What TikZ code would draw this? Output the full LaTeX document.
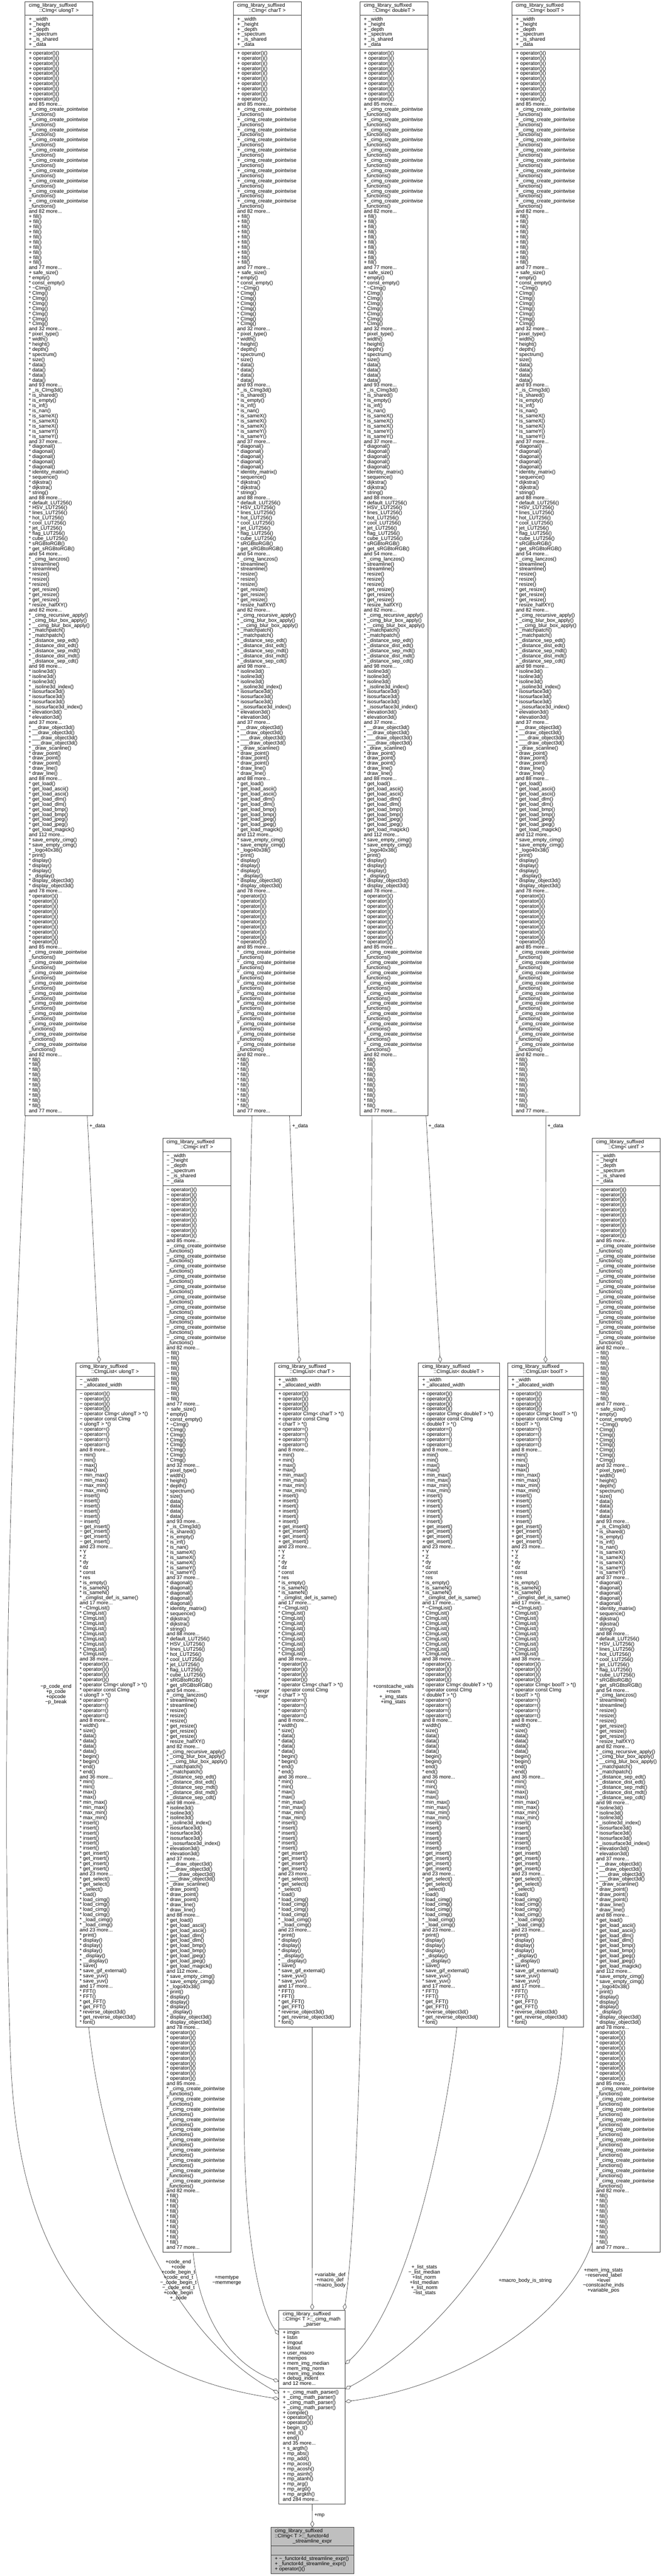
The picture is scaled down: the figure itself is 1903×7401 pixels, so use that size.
\documentclass[tikz,border=0pt]{standalone}
\usepackage{fontspec}
\setmainfont{Liberation Sans}
\usetikzlibrary{arrows.meta}
\definecolor{bcol}{HTML}{404040}
\definecolor{gfill}{HTML}{BFBFBF}
\newcommand\bfnt{\fontsize{14.68pt}{14.68pt}\selectfont}
\newcommand\Li[1]{\hbox{#1}}
\newcommand\Lines[1]{\vtop{\lineskiplimit=-100pt\lineskip=0pt #1}}
\newcommand\Two[1]{\Li{#1}\Li{#1}}
\newcommand\Three[1]{\Two{#1}\Li{#1}}
\newcommand\Four[1]{\Two{#1}\Two{#1}}
\newcommand\Five[1]{\Four{#1}\Li{#1}}
\newcommand\Six[1]{\Four{#1}\Two{#1}}
\newcommand\Seven[1]{\Six{#1}\Li{#1}}
\newcommand\Nine[1]{\Five{#1}\Four{#1}}
\newcommand\Ten[1]{\Five{#1}\Five{#1}}
\newcommand\PW[1]{\Li{#1 \_cimg\_create\_pointwise}\Li{\_functions()}}
\newcommand\PWTen[1]{\PW{#1}\PW{#1}\PW{#1}\PW{#1}\PW{#1}\PW{#1}\PW{#1}\PW{#1}\PW{#1}\PW{#1}}
\newcommand\CImgHead[1]{\Ten{#1 operator()()}\Li{and 85 more...}\PWTen{#1}\Li{and 82 more...}\Ten{#1 fill()}\Li{and 77 more...}}
\newcommand\CImgAttr[1]{\Li{#1 \_width}\Li{#1 \_height}\Li{#1 \_depth}\Li{#1 \_spectrum}\Li{#1 \_is\_shared}\Li{#1 \_data}}
\newcommand\CImgMeth[1]{%
\CImgHead{#1}\Li{#1 safe\_size()}%
\Li{* empty()}\Li{* const\_empty()}\Li{* \textasciitilde CImg()}\Seven{* CImg()}\Li{and 32 more...}%
\Li{* pixel\_type()}\Li{* width()}\Li{* height()}\Li{* depth()}\Li{* spectrum()}\Li{* size()}\Four{* data()}\Li{and 93 more...}%
\Li{* \_is\_CImg3d()}\Li{* is\_shared()}\Li{* is\_empty()}\Li{* is\_inf()}\Li{* is\_nan()}\Three{* is\_sameX()}\Two{* is\_sameY()}\Li{and 37 more...}%
\Five{* diagonal()}\Li{* identity\_matrix()}\Li{* sequence()}\Two{* dijkstra()}\Li{* string()}\Li{and 88 more...}%
\Li{* default\_LUT256()}\Li{* HSV\_LUT256()}\Li{* lines\_LUT256()}\Li{* hot\_LUT256()}\Li{* cool\_LUT256()}\Li{* jet\_LUT256()}\Li{* flag\_LUT256()}\Li{* cube\_LUT256()}\Li{* sRGBtoRGB()}\Li{* get\_sRGBtoRGB()}\Li{and 54 more...}%
\Li{* \_cimg\_lanczos()}\Two{* streamline()}\Three{* resize()}\Three{* get\_resize()}\Li{* resize\_halfXY()}\Li{and 82 more...}%
\Li{* \_cimg\_recursive\_apply()}\Li{* \_cimg\_blur\_box\_apply()}\Li{* \_\_cimg\_blur\_box\_apply()}\Two{* \_matchpatch()}\Li{* \_distance\_sep\_edt()}\Li{* \_distance\_dist\_edt()}\Li{* \_distance\_sep\_mdt()}\Li{* \_distance\_dist\_mdt()}\Li{* \_distance\_sep\_cdt()}\Li{and 98 more...}%
\Three{* isoline3d()}\Li{* \_isoline3d\_index()}\Three{* isosurface3d()}\Li{* \_isosurface3d\_index()}\Two{* elevation3d()}\Li{and 37 more...}%
\Two{* \_\_draw\_object3d()}\Two{* \_\_\_draw\_object3d()}\Li{* \_draw\_scanline()}\Three{* draw\_point()}\Two{* draw\_line()}\Li{and 88 more...}%
\Li{* get\_load()}\Two{* get\_load\_ascii()}\Two{* get\_load\_dlm()}\Two{* get\_load\_bmp()}\Two{* get\_load\_jpeg()}\Li{* get\_load\_magick()}\Li{and 112 more...}%
\Two{* save\_empty\_cimg()}\Li{* \_logo40x38()}\Li{* print()}\Three{* display()}\Li{* \_display()}\Two{* display\_object3d()}\Li{and 78 more...}%
\CImgHead{*}}
\newcommand\LOp[2]{\Four{#1 operator()()}\Li{#1 operator CImg< #2 > *()}\Li{#1 operator const CImg}\Li{< #2 > *()}\Four{#1 operator=()}\Li{and 8 more...}}
\newcommand\LMin[1]{\Two{#1 min()}\Two{#1 max()}\Two{#1 min\_max()}\Two{#1 max\_min()}\Six{#1 insert()}\Four{#1 get\_insert()}\Li{and 23 more...}}
\newcommand\ListMeth[2]{\LOp{#1}{#2}\LMin{#1}%
\Li{* Y}\Li{* Z}\Li{* dy}\Li{* dz}\Li{* const}\Li{* res}%
\Li{* is\_empty()}\Two{* is\_sameN()}\Li{* \_cimglist\_def\_is\_same()}\Li{and 17 more...}%
\Li{* \textasciitilde CImgList()}\Nine{* CImgList()}\Li{and 38 more...}%
\LOp{*}{#2}%
\Li{* width()}\Li{* size()}\Four{* data()}\Two{* begin()}\Two{* end()}\Li{and 36 more...}%
\LMin{*}%
\Two{* get\_select()}\Li{* \_select()}\Li{* load()}\Four{* load\_cimg()}\Two{* \_load\_cimg()}\Li{and 23 more...}%
\Li{* print()}\Three{* display()}\Li{* \_display()}\Li{* \_\_display()}\Li{* save()}\Li{* save\_gif\_external()}\Two{* save\_yuv()}\Li{and 17 more...}%
\Two{* FFT()}\Two{* get\_FFT()}\Li{* reverse\_object3d()}\Li{* get\_reverse\_object3d()}\Li{* font()}}
\tikzset{
  umlbox/.style={draw=bcol, line width=1.2pt, fill=white, anchor=north west, inner sep=0pt, outer sep=0pt},
  sepline/.style={draw=bcol, line width=1.2pt},
  tx/.style={anchor=base west, inner sep=0pt, font=\bfnt},
  hc/.style={anchor=base, inner sep=0pt, font=\bfnt},
  lab/.style={inner sep=0pt, font=\bfnt, align=center},
  conn/.style={draw=bcol, line width=1pt, -{Diamond[fill=white, length=19pt, width=11pt, line width=1pt]}}
}
\newcommand\Cls[7]{%
  \node[umlbox, minimum width=#4pt, minimum height=#5pt] (#1) at (#2,#3) {};
  \draw[sepline] ([yshift=-#6pt]#1.north west) -- ([yshift=-#6pt]#1.north east);
  \draw[sepline] ([yshift=-#7pt]#1.north west) -- ([yshift=-#7pt]#1.north east);}
\newcommand\HdrTwo[5]{%
  \node[tx] (#1-h1) at (#2+11,#3+15.5) {cimg\_library\_suffixed};
  \node[hc] (#1-h2) at (#2+#4/2,#3+30.18) {#5};}
\newcommand\Sec[4]{\node[tx] (#1) at (#2+11,#3+15.5) {\Lines{#4}};}
\newcommand\CImgBox[6]{% name x y w header prefix
  \Cls{#1}{#2}{#3}{#4}{3199.98}{39.06}{136.84}
  \HdrTwo{#1}{#2}{#3}{#4}{#5}
  \Sec{#1-at}{#2}{#3+39.06}{\CImgAttr{#6}}
  \Sec{#1-me}{#2}{#3+136.84}{\CImgMeth{#6}}}
\newcommand\ListBox[6]{% name x w header prefix type
  \Cls{#1}{#2}{3915}{#3}{1908.14}{39.06}{78.12}
  \HdrTwo{#1}{#2}{3915}{#3}{#4}
  \Sec{#1-at}{#2}{3915+39.06}{\Li{#5 \_width}\Li{#5 \_allocated\_width}}
  \Sec{#1-me}{#2}{3915+78.12}{\ListMeth{#5}{#6}}}
\begin{document}
\begin{tikzpicture}[x=1pt,y=-1pt]
\useasboundingbox (0,0) rectangle (1903,7401);
\fill[white] (0,0) rectangle (1903,7401);
% top row
\CImgBox{A}{72}{5}{195}{::CImg< ulongT >}{+}
\CImgBox{C}{671}{5}{195}{::CImg< charT >}{+}
\CImgBox{D}{1035}{5}{195}{::CImg< doubleT >}{+}
\CImgBox{E}{1472}{5}{195}{::CImg< boolT >}{+}
% second level
\CImgBox{B}{468}{3270}{196}{::CImg< intT >}{−}
\CImgBox{F}{1703}{3270}{195}{::CImg< uintT >}{−}
% lists
\ListBox{L1}{218}{226}{::CImgList< ulongT >}{−}{ulongT}
\ListBox{L2}{789}{218}{::CImgList< charT >}{+}{charT}
\ListBox{L3}{1203}{233}{::CImgList< doubleT >}{+}{doubleT}
\ListBox{L4}{1460}{217}{::CImgList< boolT >}{+}{boolT}
% math parser
\Cls{M}{802}{6637}{191}{557.58}{53.74}{224.92}
\node[tx] (M-h1) at (813,6652.5) {cimg\_library\_suffixed};
\node[tx] (M-h2) at (813,6667.18) {::CImg< T >::\_cimg\_math};
\node[hc] (M-h3) at (897.5,6681.86) {\_parser};
\Sec{M-at}{802}{6637+53.74}{\Li{+ imgin}\Li{+ listin}\Li{+ imgout}\Li{+ listout}\Li{+ user\_macro}\Li{+ mempos}\Li{+ mem\_img\_median}\Li{+ mem\_img\_norm}\Li{+ mem\_img\_index}\Li{+ debug\_indent}\Li{and 12 more...}}
\Sec{M-me}{802}{6637+224.92}{\Li{+ \textasciitilde\_cimg\_math\_parser()}\Three{+ \_cimg\_math\_parser()}\Li{+ compile()}\Two{+ operator()()}\Li{+ begin\_t()}\Li{+ end\_t()}\Li{+ end()}\Li{and 35 more...}\Li{+ s\_argth()}\Li{+ mp\_abs()}\Li{+ mp\_add()}\Li{+ mp\_acos()}\Li{+ mp\_acosh()}\Li{+ mp\_asinh()}\Li{+ mp\_atanh()}\Li{+ mp\_arg()}\Li{+ mp\_arg0()}\Li{+ mp\_argkth()}\Li{and 284 more...}}
% functor box
\node[umlbox, fill=gfill, minimum width=238pt, minimum height=133.48pt] (G) at (779,7261) {};
\draw[sepline] ([yshift=-53.74pt]G.north west) -- ([yshift=-53.74pt]G.north east);
\draw[sepline] ([yshift=-79.74pt]G.north west) -- ([yshift=-79.74pt]G.north east);
\node[tx] (G-h1) at (790,7276.5) {cimg\_library\_suffixed};
\node[tx] (G-h2) at (790,7291.18) {::CImg< T >::\_functor4d};
\node[hc] (G-h3) at (898,7305.86) {\_streamline\_expr};
\Sec{G-me}{779}{7261+79.74}{\Li{+ \textasciitilde\_functor4d\_streamline\_expr()}\Li{+ \_functor4d\_streamline\_expr()}\Li{+ operator()()}}
% _data edges
\draw[conn] ([xshift=179pt]A.south west) -- ([xshift=67pt]L1.north west);
\node[lab, anchor=west] (lAL) at (257,3236) {+\_data};
\draw[conn] ([xshift=161.5pt]C.south west) -- ([xshift=71.5pt]L2.north west);
\node[lab, anchor=west] (lCL) at (840,3236) {+\_data};
\draw[conn] ([xshift=190pt]D.south west) -- ([xshift=63pt]L3.north west);
\node[lab, anchor=west] (lDL) at (1232,3236) {+\_data};
\draw[conn] (E.south) -- (L4.north);
\node[lab, anchor=west] (lEL) at (1574,3236) {+\_data};
% edges into math parser
\coordinate (vA) at (30,5900);
\draw[conn] ([xshift=1pt]A.south west) .. controls (35,4100) and (0,5000) .. (vA) .. controls (45,6350) and (180,6800) .. ([yshift=-255pt]M.north west);
\node[lab] (lAM) at (161,4868) {−p\_code\_end\\+p\_code\\+opcode\\−p\_break};
\draw[conn] ([xshift=37pt]L1.south west) .. controls (300,6250) and (480,6700) .. ([yshift=-239pt]M.north west);
\node[lab] (lL1M) at (513,6551) {+code\_end\\+code\\+code\_begin\_t\\+code\_end\_t\\−\_code\_begin\_t\\−\_code\_end\_t\\+code\_begin\\+\_code};
\draw[conn] ([xshift=87pt]B.south west) .. controls (575,6680) and (680,6800) .. ([yshift=-205pt]M.north west);
\node[lab] (lBM) at (652,6552) {+memtype\\−memmerge};
\coordinate (vC) at (702,6100);
\draw[conn] ([xshift=53.5pt]C.south west) .. controls (700,4200) and (700,5400) .. (vC) .. controls (704,6450) and (750,6640) .. ([yshift=-71pt]M.north west);
\node[lab] (lCM) at (752,4868) {+pexpr\\−expr};
\draw[conn] (L2) -- (M);
\node[lab] (lL2M) at (949,6551) {+variable\_def\\+macro\_def\\−macro\_body};
\draw[conn] ([xshift=35pt]D.south west) .. controls (1060,5000) and (1040,6300) .. ([xshift=-3pt]M.north east);
\node[lab] (lDM) at (1131,4868) {+constcache\_vals\\+mem\\+\_img\_stats\\+img\_stats};
\draw[conn] ([xshift=111pt]L3.south west) .. controls (1260,6250) and (1150,6650) .. ([yshift=-155pt]M.north east);
\node[lab] (lL3M) at (1220,6551) {+\_list\_stats\\−\_list\_median\\+list\_norm\\+list\_median\\+\_list\_norm\\−list\_stats};
\draw[conn] ([xshift=160pt]L4.south west) .. controls (1600,6300) and (1300,6700) .. ([yshift=-227pt]M.north east);
\node[lab] (lL4M) at (1510,6553) {+macro\_body\_is\_string};
\draw[conn] ([yshift=28pt]F.south west) .. controls (1620,6680) and (1300,6860) .. ([yshift=-263pt]M.north east);
\node[lab] (lFM) at (1735,6552) {+mem\_img\_stats\\−reserved\_label\\+level\\−constcache\_inds\\+variable\_pos};
\draw[conn] (M) -- (G);
\node[lab, anchor=west] (lMG) at (904,7227) {+mp};
\end{tikzpicture}
\end{document}
